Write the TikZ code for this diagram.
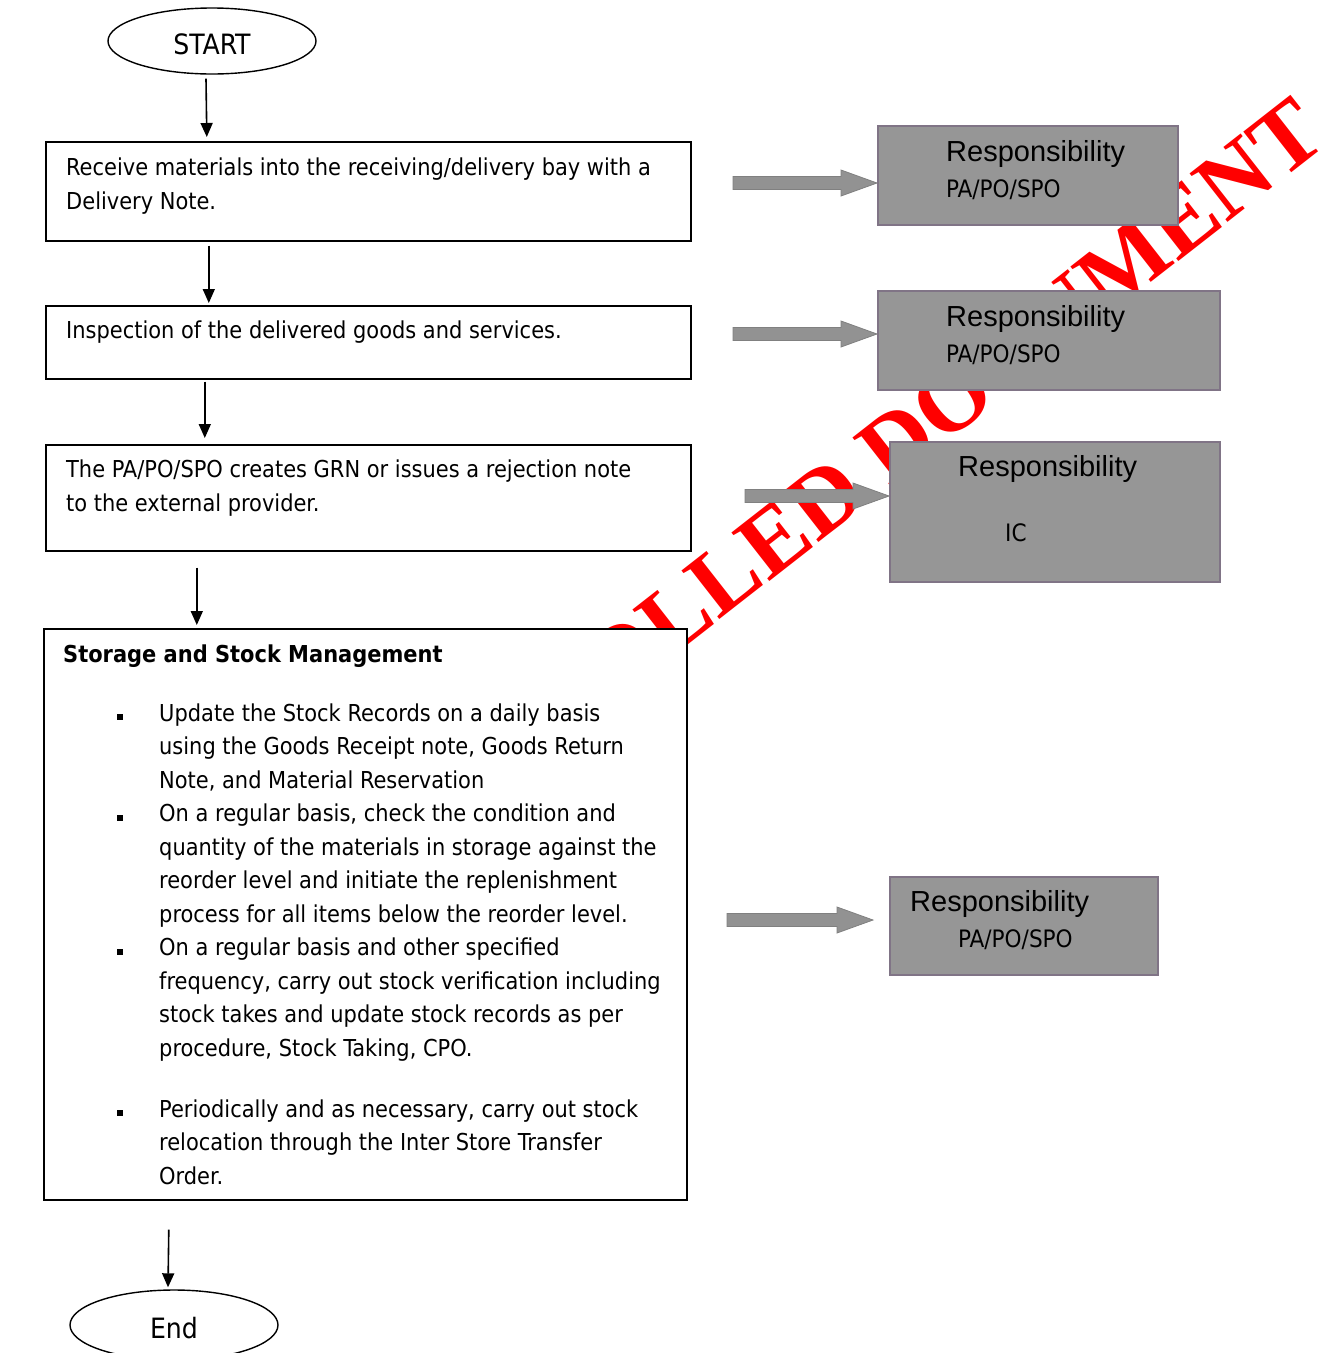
\documentclass[tikz,border=0pt]{standalone}
\usepackage{fontspec}
\setmainfont{DejaVu Sans Condensed}
\newfontfamily\respfont{Liberation Sans}
\newfontfamily\markfont{Liberation Serif}
\usetikzlibrary{shapes.geometric,calc,arrows.meta}

\definecolor{respgray}{RGB}{150,150,150}
\definecolor{respline}{RGB}{128,116,134}
\definecolor{arrowgray}{RGB}{146,146,146}
\definecolor{arrowline}{RGB}{128,128,128}

\tikzset{
  flowbox/.style={draw, line width=1.6pt, fill=white, inner sep=0pt, anchor=north west},
  terminal/.style={draw, ellipse, line width=1.4pt, fill=white, minimum width=208pt, minimum height=66pt, text height=27pt, text depth=0pt, font=\fontsize{28}{28}\selectfont},
  flowtext/.style={anchor=north west, inner sep=0pt, align=left, font=\fontsize{23.3}{33.5}\selectfont},
  respbox/.style={draw=respline, line width=1.6pt, fill=respgray, inner sep=0pt, anchor=north west},
  resptitle/.style={anchor=west, inner sep=0pt, font=\respfont\fontsize{29}{29}\selectfont},
  respname/.style={anchor=west, inner sep=0pt, font=\fontsize{24}{24}\selectfont},
  flow/.style={line width=1.6pt, -{Triangle[length=14pt,width=12pt]}},
  grayarrow/.style={fill=arrowgray, draw=arrowline, line width=0.8pt},
}

\newcommand{\bul}{\makebox[96pt][l]{\hspace*{54pt}\rule[1pt]{6pt}{6pt}}}
\newcommand{\ind}{\hspace*{96pt}}

\begin{document}
\begin{tikzpicture}[x=1pt, y=-1pt]
\useasboundingbox (0,0) rectangle (1327,1353);

% watermark behind everything
\node[anchor=base west, inner sep=0pt, rotate=38, text=red, font=\markfont\bfseries\fontsize{94}{94}\selectfont] (mark) at (237,997) {UNCONTROLLED DOCUMENT};

% main flow
\node[terminal] (start) at (212,41) {START};
\node[flowbox, minimum width=645pt, minimum height=99pt] (receive) at (45,141) {};
\node[flowtext] (receivetxt) at ($(receive.north west)+(21,17)$) {Receive materials into the receiving/delivery bay with a\\Delivery Note.};
\node[flowbox, minimum width=645pt, minimum height=73pt] (inspect) at (45,305) {};
\node[flowtext] (inspecttxt) at ($(inspect.north west)+(21,16)$) {Inspection of the delivered goods and services.};
\node[flowbox, minimum width=645pt, minimum height=106pt] (grn) at (45,444) {};
\node[flowtext] (grntxt) at ($(grn.north west)+(21,16)$) {The PA/PO/SPO creates GRN or issues a rejection note\\to the external provider.};
\node[flowbox, minimum width=643pt, minimum height=571pt] (store) at (43,628) {};
\node[flowtext] (storetxt) at ($(store.north west)+(20,17)$) {{\bfseries Storage and Stock Management}\\[25pt]
\bul Update the Stock Records on a daily basis\\
\ind using the Goods Receipt note, Goods Return\\
\ind Note, and Material Reservation\\
\bul On a regular basis, check the condition and\\
\ind quantity of the materials in storage against the\\
\ind reorder level and initiate the replenishment\\
\ind process for all items below the reorder level.\\
\bul On a regular basis and other specified\\
\ind frequency, carry out stock verification including\\
\ind stock takes and update stock records as per\\
\ind procedure, Stock Taking, CPO.\\[27.5pt]
\bul Periodically and as necessary, carry out stock\\
\ind relocation through the Inter Store Transfer\\
\ind Order.};
\node[terminal, minimum height=70pt] (stop) at (174,1325) {End};

\draw[flow] ($(start.south)+(-6,4)$) -- ($(receive.north)+(-161.5,-4)$);
\draw[flow] ($(receive.south)+(-159.5,4)$) -- ($(inspect.north)+(-159.5,-2)$);
\draw[flow] ($(inspect.south)+(-163.5,2)$) -- ($(grn.north)+(-163.5,-6)$);
\draw[flow] ($(grn.south)+(-171.5,16)$) -- ($(store.north)+(-168.5,-3)$);
\draw[flow] ($(store.south)+(-196.5,29)$) -- ($(stop.north)+(-6,-2)$);

% responsibilities
\node[respbox, minimum width=300pt, minimum height=99pt] (resp1) at (877,125) {};
\node[resptitle] (resp1t) at ($(resp1.north west)+(69,29)$) {Responsibility};
\node[respname] (resp1n) at ($(resp1.north west)+(69,65)$) {PA/PO/SPO};
\node[respbox, minimum width=342pt, minimum height=99pt] (resp2) at (877,290) {};
\node[resptitle] (resp2t) at ($(resp2.north west)+(69,29)$) {Responsibility};
\node[respname] (resp2n) at ($(resp2.north west)+(69,65)$) {PA/PO/SPO};
\node[respbox, minimum width=330pt, minimum height=140pt] (resp3) at (889,441) {};
\node[resptitle] (resp3t) at ($(resp3.north west)+(69,28)$) {Responsibility};
\node[respname] (resp3n) at ($(resp3.north west)+(116,92)$) {IC};
\node[respbox, minimum width=268pt, minimum height=98pt] (resp4) at (889,876) {};
\node[resptitle] (resp4t) at ($(resp4.north west)+(21,28)$) {Responsibility};
\node[respname] (resp4n) at ($(resp4.north west)+(69,64)$) {PA/PO/SPO};

% block arrows towards the responsibilities
\coordinate (a1) at (733,183);
\coordinate (a2) at (733,334);
\coordinate (a3) at (745,496);
\coordinate (a4) at (727,920);
\foreach \a/\b/\g in {a1/resp1/0, a2/resp2/0, a3/resp3/0, a4/resp4/16}{
  \coordinate (\a tip) at ($(\a -| \b.west)+(-\g,0)$);
  \filldraw[grayarrow] ($(\a)+(0,-6.5)$) -- ($(\a tip)+(-36,-6.5)$) -- ($(\a tip)+(-36,-13)$) -- (\a tip)
    -- ($(\a tip)+(-36,13)$) -- ($(\a tip)+(-36,6.5)$) -- ($(\a)+(0,6.5)$) -- cycle;
}
\end{tikzpicture}
\end{document}
